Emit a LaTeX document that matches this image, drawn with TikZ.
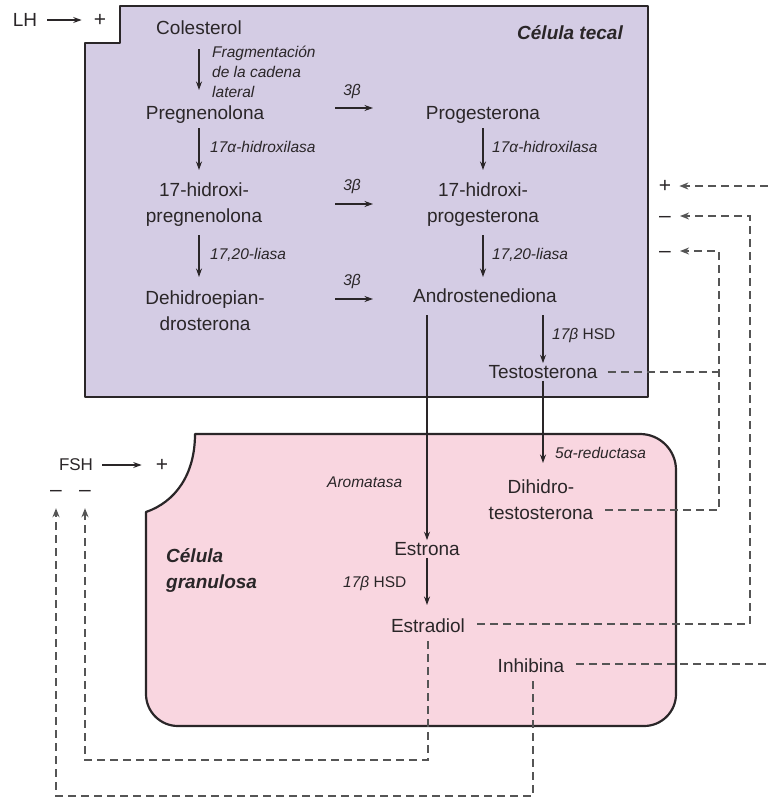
\documentclass[tikz,border=0pt]{standalone}
\usepackage{fontspec}
\setmainfont{Liberation Sans}
\usetikzlibrary{arrows.meta}
\definecolor{teca}{HTML}{D4CCE4}
\definecolor{gran}{HTML}{F9D6E0}
\definecolor{ink}{HTML}{2A2628}
\definecolor{dashc}{HTML}{555555}
\tikzset{
 mol/.style={font=\fontsize{19}{26}\selectfont, text=ink, inner sep=2pt, align=center},
 enz/.style={font=\fontsize{15.5}{20}\selectfont\itshape, text=ink, inner sep=0pt, align=left},
 rx/.style={draw=ink, line width=1.3pt, -{Stealth[length=8.5pt,width=6pt]}},
 fb/.style={draw=dashc, line width=1.5pt, dash pattern=on 8pt off 5pt},
 fba/.style={fb, -{Stealth[length=9pt,width=7pt]}},
 cellname/.style={font=\fontsize{19}{26}\selectfont\bfseries\itshape, text=ink, align=left, inner sep=0pt},
 sign/.style={font=\fontsize{21}{21}\selectfont, text=ink, inner sep=0pt},
 membrane/.style={draw=ink, line width=2.2pt, line join=round},
}
\begin{document}
\begin{tikzpicture}[x=1pt,y=-1pt]
\useasboundingbox (0,0) rectangle (768,798);
% membranes
\draw[membrane, fill=teca] (120,6) -- (648,6) -- (648,397) -- (85,397) -- (85,43) -- (120,43) -- cycle;
\draw[membrane, fill=gran] (195,434) -- (640,434) to[out=0,in=90] (676,470) -- (676,694)
  to[out=-90,in=0] (644,726) -- (178,726) to[out=180,in=-90] (146,694) -- (146,512)
  .. controls (175,502) and (195,475) .. (195,434) -- cycle;
% cell names
\node[cellname, anchor=east] (tecal) at (623,33) {Célula tecal};
\node[cellname, anchor=west] (granul) at (166,570) {Célula\\granulosa};
% molecules
\node[mol] (col) at (199,28) {Colesterol};
\node[mol] (preg) at (205,115) {Pregnenolona};
\node[mol] (prog) at (483,115) {Progesterona};
\node[mol] (hpreg) at (204,205) {17-hidroxi-\\pregnenolona};
\node[mol] (hprog) at (483,205) {17-hidroxi-\\progesterona};
\node[mol] (dhea) at (205,311) {Dehidroepian-\\drosterona};
\node[mol] (andro) at (485,296) {Androstenediona};
\node[mol] (testo) at (543,372) {Testosterona};
\node[mol] (dht) at (541,500) {Dihidro-\\testosterona};
\node[mol] (estrona) at (427,549) {Estrona};
\node[mol] (estradiol) at (428,626) {Estradiol};
\node[mol] (inh) at (531,666) {Inhibina};
% enzyme labels
\node[enz, anchor=west] (frag) at (212,72) {Fragmentación\\de la cadena\\lateral};
\node[enz, anchor=west] (hx1) at (210,147) {17α-hidroxilasa};
\node[enz, anchor=west] (hx2) at (492,147) {17α-hidroxilasa};
\node[enz, anchor=west] (ly1) at (210,255) {17,20-liasa};
\node[enz, anchor=west] (ly2) at (492,255) {17,20-liasa};
\node[enz] (tb1) at (352,91) {3β};
\node[enz] (tb2) at (352,186) {3β};
\node[enz] (tb3) at (352,281) {3β};
\node[enz, anchor=west] (hsd1) at (552,335) {17β {\upshape HSD}};
\node[enz, anchor=west] (red) at (555,453) {5α-reductasa};
\node[enz, anchor=west] (aro) at (327,482) {Aromatasa};
\node[enz, anchor=west] (hsd2) at (343,583) {17β {\upshape HSD}};
% vertical reaction arrows
\draw[rx] (col.south |- 0,49) -- (col.south |- 0,90);
\draw[rx] (col.south |- 0,128) -- (col.south |- 0,170);
\draw[rx] (col.south |- 0,235) -- (col.south |- 0,277);
\draw[rx] (prog.south |- 0,128) -- (prog.south |- 0,170);
\draw[rx] (prog.south |- 0,235) -- (prog.south |- 0,277);
\draw[rx] (testo.north |- 0,315) -- (testo.north);
\draw[rx] (testo.south) -- (testo.south |- 0,463);
\draw[rx] (estrona.north |- 0,315) -- (estrona.north);
\draw[rx] (estrona.south) -- (estrona.south |- 0,605);
% horizontal 3beta arrows
\coordinate (h1s) at (335,108); \coordinate (h1e) at (373,108);
\coordinate (h2s) at (335,204); \coordinate (h2e) at (373,204);
\coordinate (h3s) at (335,299); \coordinate (h3e) at (373,299);
\draw[rx] (h1s) -- (h1e);
\draw[rx] (h2s) -- (h2e);
\draw[rx] (h3s) -- (h3e);
% LH and FSH
\node[mol] (lh) at (25,20) {LH};
\node[sign] (lhp) at (100,20) {+};
\draw[rx, shorten <=8pt, shorten >=12pt] (lh) -- (lhp);
\node[mol, font=\fontsize{17}{20}\selectfont] (fsh) at (76,465) {FSH};
\node[sign] (fshp) at (162,465) {+};
\draw[rx, shorten <=7pt, shorten >=14pt] (fsh) -- (fshp);
\node[sign] (fm1) at (56,493) {–};
\node[sign] (fm2) at (85,493) {–};
% right signs
\node[sign] (rp1) at (665,186) {+};
\node[sign] (rm1) at (665,219) {–};
\node[sign] (rm2) at (665,254) {–};
% feedback dashed lines
\coordinate (e1) at (768,186);
\draw[fba, shorten >=8pt] (e1) -- (rp1);
\coordinate (k1) at (750,216);
\draw[fba, shorten >=9pt] ([xshift=10pt,yshift=2pt]estradiol.east) -| (k1) -- (rm1.east |- k1);
\coordinate (k2) at (719,251);
\draw[fb] ([xshift=8pt]testo.east) -- (testo.east -| k2);
\draw[fba, shorten >=9pt] ([xshift=10pt,yshift=-10pt]dht.east) -| (k2) -- (rm2.east |- k2);
\coordinate (e2) at (768,664);
\draw[fb] ([xshift=10pt,yshift=2pt]inh.east) -- (e2);
\coordinate (b1) at (85,760);
\draw[fba, shorten >=12pt] ([yshift=-6pt]estradiol.south) |- (b1) -- (fm2);
\coordinate (b2) at (56,796);
\draw[fba, shorten >=12pt] ([xshift=2pt,yshift=-6pt]inh.south) |- (b2) -- (fm1);
\end{tikzpicture}
\end{document}
